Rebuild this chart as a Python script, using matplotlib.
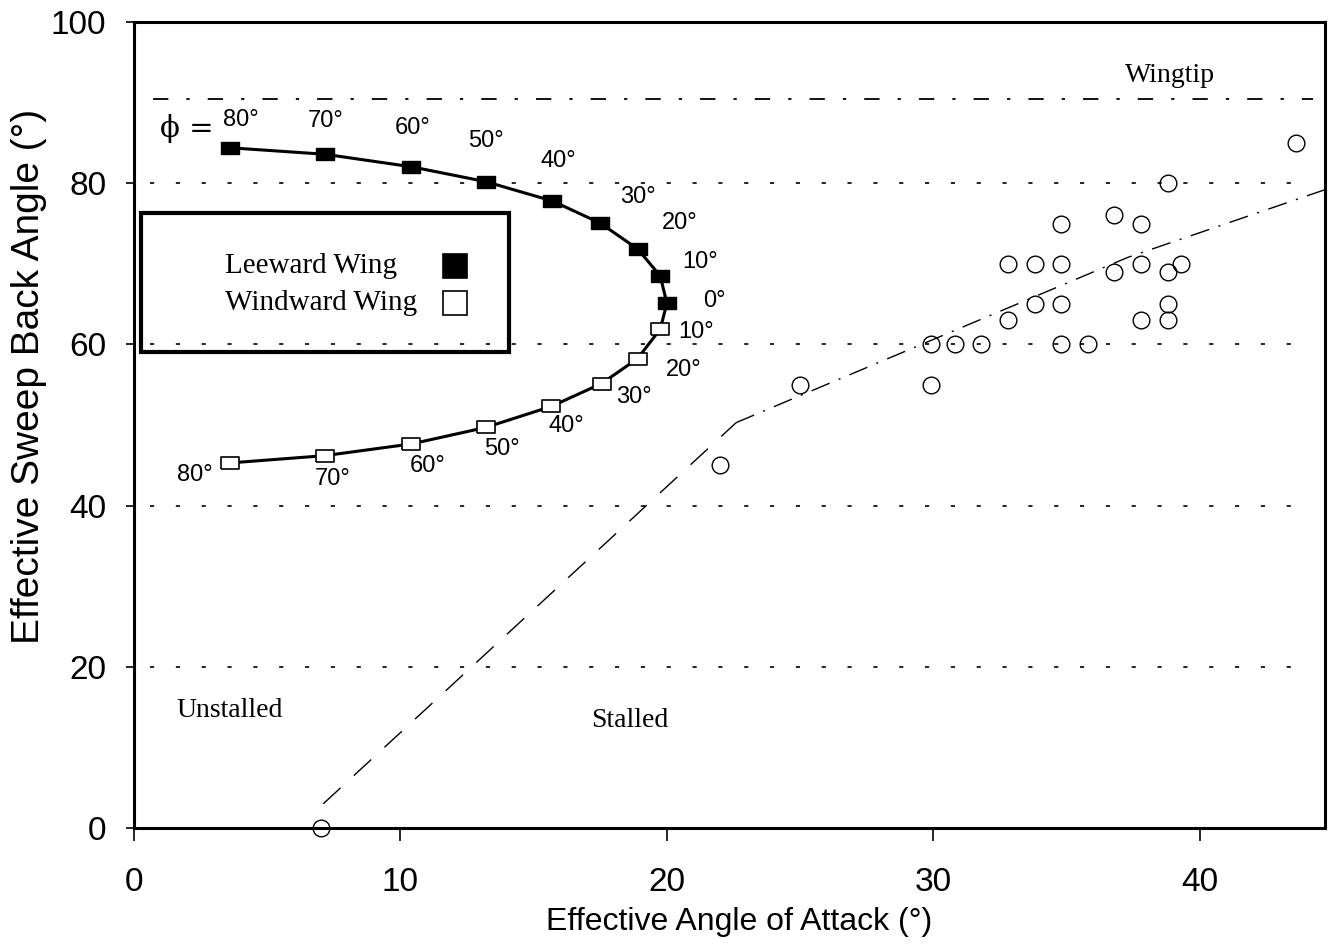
import matplotlib
matplotlib.use("Agg")
import matplotlib.pyplot as plt
from matplotlib.patches import Rectangle

plt.rcParams['font.family'] = ['Liberation Sans', 'DejaVu Sans']

# -- data --
# leeward wing, roll angle phi 80 -> 0
phi_lee = [80, 70, 60, 50, 40, 30, 20, 10, 0]
lee_alpha = [3.6, 7.15, 10.4, 13.2, 15.7, 17.5, 18.9, 19.75, 20.0]
lee_sweep = [84.4, 83.6, 82.05, 80.2, 77.8, 75.05, 71.85, 68.5, 65.1]

# windward wing, roll angle phi 10 -> 80
phi_wind = [10, 20, 30, 40, 50, 60, 70, 80]
wind_alpha = [19.75, 18.9, 17.55, 15.65, 13.2, 10.4, 7.15, 3.6]
wind_sweep = [61.9, 58.25, 55.15, 52.3, 49.7, 47.65, 46.2, 45.3]

# experimental stall points (open circles)
stall_alpha = [7.0, 22.0, 25.0, 29.9, 29.9, 30.8, 31.8, 34.8, 35.8,
               32.8, 37.8, 38.8, 33.8, 34.8, 38.8,
               32.8, 33.8, 34.8, 36.8, 37.8, 38.8, 39.3,
               34.8, 36.8, 37.8, 38.8, 43.6]
stall_sweep = [0, 45, 55, 55, 60, 60, 60, 60, 60,
               63, 63, 63, 65, 65, 65,
               70, 70, 70, 69, 70, 69, 70,
               75, 76, 75, 80, 85]

# stall boundary
bound_alpha = [7.1, 22.6, 37.3, 44.7]
bound_sweep = [3.0, 50.3, 70.8, 79.2]

grid_levels = [20, 40, 60, 80]
wingtip_sweep = 90.5

legend_labels = ["Leeward Wing", "Windward Wing"]

# label offsets (points) for the phi annotations
lee_offsets = [(8, 20), (1, 24), (1, 28), (0, 29), (4, 29), (27, 19), (30, 19), (29, 10), (34, 2)]
wind_offsets = [(26, -2), (33, -8), (23, -9.5), (11, -14), (12, -15.5), (12, -16), (6, -17), (-25, -9)]

fig = plt.figure(figsize=(13.3, 9.46), dpi=100)
ax = fig.add_axes([0.1008, 0.1247, 0.8954, 0.852])

# reference lines
for lvl in grid_levels:
    ax.axhline(lvl, xmin=0.013, xmax=0.987, color='black', lw=1.2,
               linestyle=(0, (2.5, 13)))
ax.axhline(wingtip_sweep, xmin=0.016, xmax=0.99, color='black', lw=1.3,
           linestyle=(0, (8.5, 10, 1.8, 10)))

# stall boundary: dashed up to the knee, dash-dot beyond
ax.plot(bound_alpha[:2], bound_sweep[:2], color='black', lw=1.0,
        linestyle=(0, (17, 13)))
ax.plot(bound_alpha[1:], bound_sweep[1:], color='black', lw=1.0,
        linestyle=(0, (14, 7, 1.5, 7)))

# wing curves
rect = [(-1.4, -1), (1.4, -1), (1.4, 1), (-1.4, 1), (-1.4, -1)]
ax.plot(lee_alpha + wind_alpha, lee_sweep + wind_sweep, color='black', lw=2.2, zorder=3)
ax.plot(lee_alpha, lee_sweep, linestyle='none', marker=rect, markersize=13,
        markerfacecolor='black', markeredgecolor='black', zorder=4)
ax.plot(wind_alpha, wind_sweep, linestyle='none', marker=rect, markersize=13,
        markerfacecolor='white', markeredgecolor='black', markeredgewidth=1.2, zorder=4)

# experimental points
ax.plot(stall_alpha, stall_sweep, linestyle='none', marker='o', markersize=12,
        markerfacecolor='none', markeredgecolor='black', markeredgewidth=1.0,
        clip_on=False, zorder=5)

# phi labels
for p, x, y, off in zip(phi_lee, lee_alpha, lee_sweep, lee_offsets):
    ax.annotate(f"{p}°", (x, y), xytext=off, textcoords='offset points',
                ha='center', va='center', fontsize=17)
for p, x, y, off in zip(phi_wind, wind_alpha, wind_sweep, wind_offsets):
    ax.annotate(f"{p}°", (x, y), xytext=off, textcoords='offset points',
                ha='center', va='center', fontsize=17)
ax.annotate("ϕ =", (lee_alpha[0], lee_sweep[0]), xytext=(-31, 14),
            textcoords='offset points', ha='center', va='center', fontsize=21,
            family=['DejaVu Serif'])

# region labels
serif = ['Liberation Serif', 'DejaVu Serif']
ax.text(38.9, 93.4, "Wingtip", ha='center', va='center', fontsize=20, family=serif)
ax.text(3.6, 14.6, "Unstalled", ha='center', va='center', fontsize=20, family=serif)
ax.text(18.6, 13.3, "Stalled", ha='center', va='center', fontsize=20, family=serif)

# legend: boxed key, text left aligned, samples in one column
ax.add_patch(Rectangle((0.006, 0.591), 0.309, 0.172, transform=ax.transAxes,
                       fill=False, edgecolor='black', lw=3, zorder=6))
key_y = [0.697, 0.651]
key_face = ['black', 'white']
for lab, ky, fc in zip(legend_labels, key_y, key_face):
    ax.text(0.0764, ky, lab, transform=ax.transAxes, ha='left', va='center',
            fontsize=21, family=serif)
    ax.plot([0.2695], [ky], transform=ax.transAxes, linestyle='none', marker='s',
            markersize=17, markerfacecolor=fc, markeredgecolor='black',
            markeredgewidth=1.2, clip_on=False)

ax.set_xlim(0, 44.7)
ax.set_ylim(0, 100)
ax.set_xticks([0, 10, 20, 30, 40])
ax.set_yticks([0, 20, 40, 60, 80, 100])
ax.tick_params(axis='x', direction='out', length=9, width=1.2, pad=19, labelsize=24)
ax.tick_params(axis='y', direction='out', length=6, width=1.2, pad=14, labelsize=24)
for s in ax.spines.values():
    s.set_linewidth(2.2)

ax.set_xlabel("Effective Angle of Attack (°)", fontsize=23)
ax.set_ylabel("Effective Sweep Back Angle (°)", fontsize=28)
ax.xaxis.set_label_coords(0.508, -0.098)
ax.yaxis.set_label_coords(-0.073, 0.56)

fig.savefig("out.png", dpi=100)
